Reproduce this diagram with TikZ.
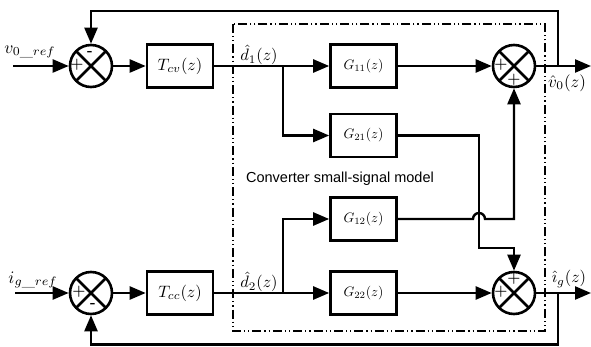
\documentclass[tikz,border=0pt]{standalone}
\usepackage{fontspec}
\newfontfamily\sansf{Liberation Sans}
\usetikzlibrary{arrows.meta}
\newcommand\sclm[2]{\scalebox{#1}{$#2$}}
\begin{document}
\begin{tikzpicture}[x=1pt,y=-1pt,
  line width=2.4pt,
  arr/.style={-{Triangle[length=16pt,width=13pt]}},
  blk/.style={draw,rectangle,line width=2.6pt,minimum width=66pt,minimum height=43pt,inner sep=0pt},
  sumn/.style={draw,circle,line width=2.6pt,minimum size=42pt,inner sep=0pt,
    path picture={\draw[line width=2.8pt] (path picture bounding box.north west)--(path picture bounding box.south east) (path picture bounding box.north east)--(path picture bounding box.south west);}},
  sgn/.style={font=\fontsize{15}{15}\selectfont\bfseries,inner sep=0pt},
  lbl/.style={inner sep=0pt},
  frame/.style={line width=1.2pt,dash pattern=on 9pt off 3pt on 1.2pt off 3pt on 1.2pt off 3pt},
]
\useasboundingbox (0,0) rectangle (591,347);

% model frame
\draw[frame] (233,24) rectangle (545,331);
\node[font=\sansf\fontsize{14.5}{16}\selectfont,inner sep=0pt] (cap) at (340,179) {Converter small-signal model};

% nodes
\node[sumn] (s1) at (91,66) {};
\node[sumn] (s4) at (91,293) {};
\node[sumn] (s2) at (514,66) {};
\node[sumn] (s3) at (514,293) {};
\node[blk] (tcv) at (180,66) {\sclm{1.65}{T_{cv}(z)}};
\node[blk] (tcc) at (180,293) {\sclm{1.65}{T_{cc}(z)}};
\node[blk] (g11) at (363.5,66) {\sclm{1.37}{G_{11}(z)}};
\node[blk] (g21) at (363.5,135.5) {\sclm{1.37}{G_{21}(z)}};
\node[blk] (g12) at (363.5,219) {\sclm{1.37}{G_{12}(z)}};
\node[blk] (g22) at (363.5,293) {\sclm{1.37}{G_{22}(z)}};

% signs
\node[sgn] (p1) at (77,65) {+};
\node[sgn] (m1) at (90,53) {-};
\node[sgn] (p4) at (79,292) {+};
\node[sgn] (m4) at (93,305) {-};
\node[sgn] (p2l) at (501,65) {+};
\node[sgn] (p2b) at (514,80) {+};
\node[sgn] (p3t) at (514,279) {+};
\node[sgn] (p3l) at (501,292) {+};

% labels
\node[lbl] (lvref) at (30,52) {\sclm{1.75}{v_{0\_ref}}};
\node[lbl] (liref) at (33,280) {\sclm{1.75}{i_{g\_ref}}};
\node[lbl] (ld1) at (259,55) {\sclm{1.65}{\hat{d}_1(z)}};
\node[lbl] (ld2) at (259,282) {\sclm{1.65}{\hat{d}_2(z)}};
\node[lbl] (lv0) at (567,83) {\sclm{1.7}{\hat{v}_0(z)}};
\node[lbl] (lig) at (569,279) {\sclm{1.65}{\hat{\imath}_g(z)}};

% coordinates
\coordinate (in1) at (13,66);
\coordinate (in2) at (15,293);
\coordinate (out1) at (591,66);
\coordinate (out2) at (591,293);
\coordinate (b1) at (283,66);
\coordinate (b2) at (283,293);
\coordinate (f1) at (558,66);
\coordinate (f2) at (558,293);

% upper path
\draw[arr] (in1) -- (s1.west);
\draw[arr] (s1.east) -- (tcv.west);
\draw[arr] (tcv.east) -- (g11.west);
\draw[arr] (b1) |- (g21.west);
\draw[arr] (g11.east) -- (s2.west);
\draw[arr] (s2.east) -- (out1);
\draw[arr] (f1) -- (558,11) -| (s1.north);

% lower path
\draw[arr] (in2) -- (s4.west);
\draw[arr] (s4.east) -- (tcc.west);
\draw[arr] (tcc.east) -- (g22.west);
\draw[arr] (b2) |- (g12.west);
\draw[arr] (g22.east) -- (s3.west);
\draw[arr] (s3.east) -- (out2);
\draw[arr] (f2) -- (558,344.5) -| (s4.south);

% cross couplings
\draw[arr] (g21.east) -- (479,135.5) -- (479,248) -| (s3.north);
\draw[arr] (g12.east) -- (473,219) arc[start angle=180,end angle=0,radius=6pt] -- (514,219) -- (s2.south);
\end{tikzpicture}
\end{document}
